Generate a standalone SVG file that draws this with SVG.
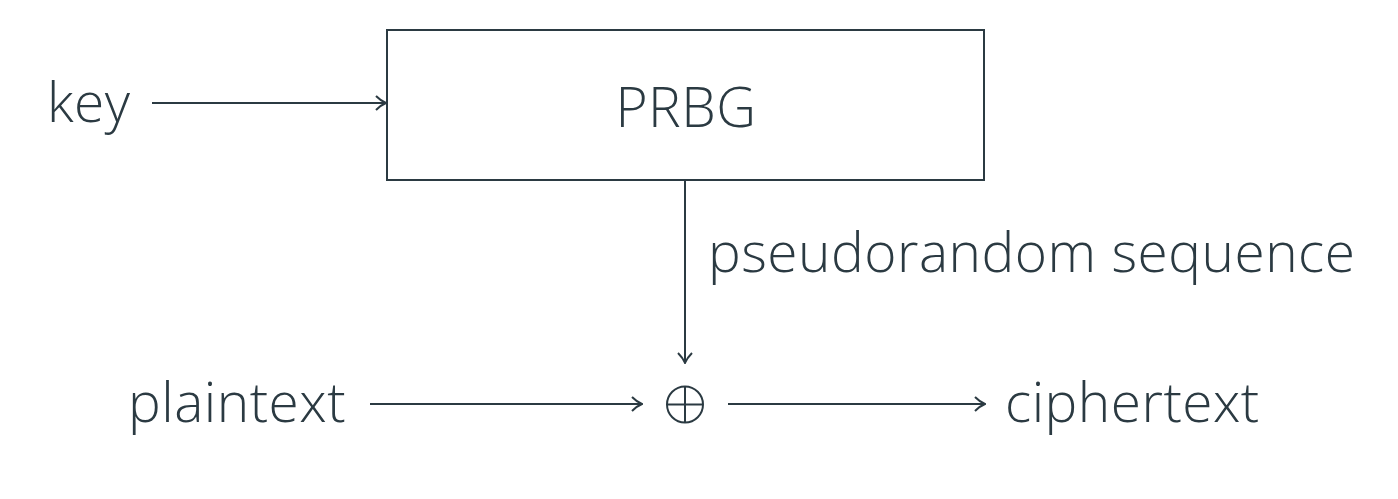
<svg xmlns="http://www.w3.org/2000/svg" width="1398" height="499" viewBox="0 0 1398 499">
<defs>
<style>
text{font-family:"Open Sans","Lato","DejaVu Sans",sans-serif;font-weight:300;fill:#2b3a42;font-size:55px;letter-spacing:0.5px}
.ln{stroke:#2b3a42;stroke-width:2;fill:none}
</style>
<marker id="ah" viewBox="0 0 12 16" refX="11" refY="8" markerWidth="12" markerHeight="16" markerUnits="userSpaceOnUse" orient="auto">
<path d="M1,1 Q6,6 11,8 Q6,10 1,15" fill="none" stroke="#2b3a42" stroke-width="2"/>
</marker>
</defs>
<rect width="1398" height="499" fill="#ffffff"/>
<g id="prbg">
<rect class="ln" x="387" y="30" width="597" height="150"/>
<text x="686" y="127" text-anchor="middle">PRBG</text>
</g>
<g id="key"><text x="47" y="122">key</text></g>
<g id="plaintext"><text x="128" y="422">plaintext</text></g>
<g id="xor">
<circle class="ln" cx="685" cy="404.5" r="18"/>
<line class="ln" x1="667" y1="404.5" x2="703" y2="404.5"/>
<line class="ln" x1="685" y1="386.5" x2="685" y2="422.5"/>
</g>
<g id="ciphertext"><text x="1005" y="422">ciphertext</text></g>
<g id="labels"><text x="708" y="272">pseudorandom sequence</text></g>
<g id="connectors">
<line class="ln" x1="152" y1="103" x2="386" y2="103" marker-end="url(#ah)"/>
<line class="ln" x1="685" y1="180" x2="685" y2="363" marker-end="url(#ah)"/>
<line class="ln" x1="370" y1="404" x2="642" y2="404" marker-end="url(#ah)"/>
<line class="ln" x1="728" y1="404" x2="985" y2="404" marker-end="url(#ah)"/>
</g>
</svg>
